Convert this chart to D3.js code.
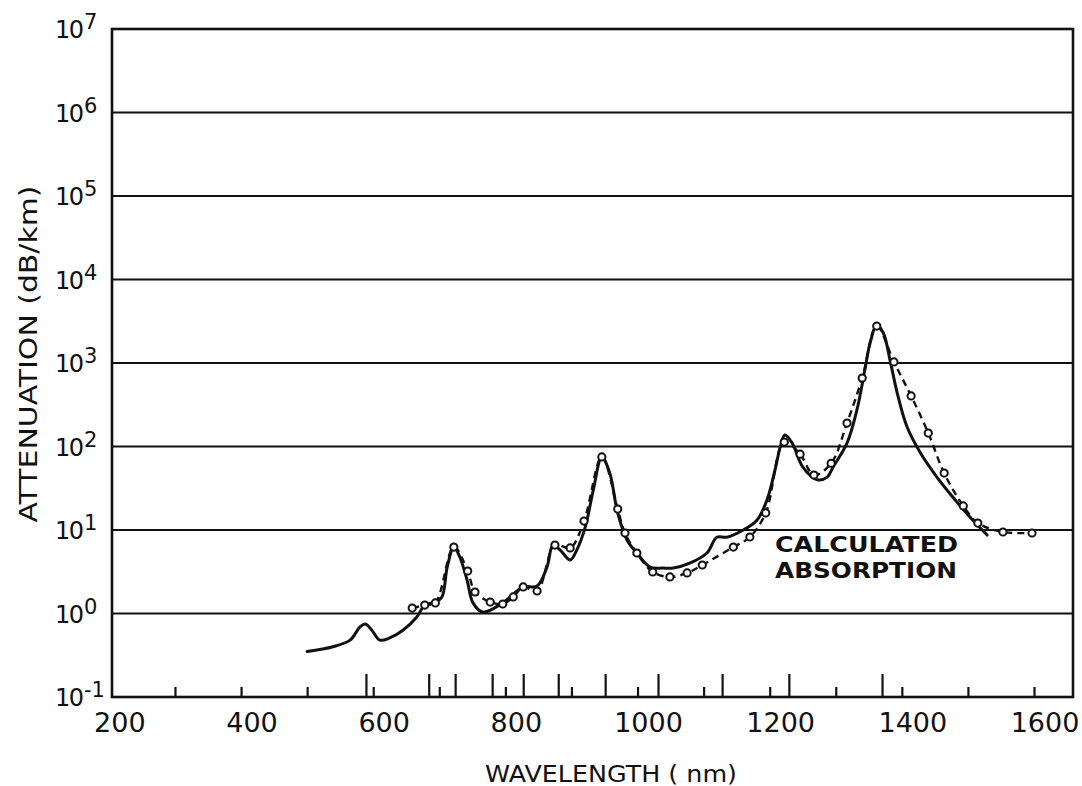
<!DOCTYPE html>
<html>
<head>
<meta charset="utf-8">
<script src="https://cdn.jsdelivr.net/npm/d3@7"></script>
<style>
  html, body { margin: 0; padding: 0; background: #fff; }
  svg { display: block; }
  text { font-family: "DejaVu Sans", sans-serif; fill: #111; }
</style>
</head>
<body>
<svg id="chart" width="1082" height="786"></svg>
<script>
// Calculated absorption (solid curve): wavelength (nm), attenuation (dB/km)
const calcWavelength = [500, 539, 565, 580, 588, 598, 610, 625, 645, 666, 678, 694, 704, 712, 722, 731, 742, 751, 766,
  796, 827, 848, 863, 872, 883, 898, 908, 921, 933, 946, 958, 970, 984, 999, 1019, 1039, 1054, 1079, 1105, 1120, 1135,
  1160, 1181, 1196, 1208, 1216, 1223, 1234, 1250, 1272, 1287, 1296, 1317, 1332, 1344, 1352, 1362, 1372, 1382, 1393,
  1408, 1428, 1453, 1477, 1503, 1529];
const calcAttenuation = [0.35, 0.40, 0.48, 0.69, 0.75, 0.63, 0.48, 0.51, 0.63, 0.91, 1.26, 1.37, 1.58, 3.6, 6.25, 4.75,
  2.52, 1.34, 1.04, 1.34, 2.08, 2.13, 3.6, 6.6, 5.75, 4.37, 5.75, 10.9, 30, 75, 48, 16, 7.6, 5.3, 3.6, 3.5, 3.5, 4.0,
  5.3, 8.2, 8.2, 10, 13.2, 23, 52, 99, 137, 110, 57, 40, 43, 57, 110, 274, 824, 1740, 2850, 2290, 1090, 437, 171, 84,
  43, 24.8, 14.3, 8.7];

// Measured attenuation (dashed curve with circle markers)
const measWavelength = [659, 678, 694, 722, 743, 754, 777, 796, 812, 827, 848, 875, 898, 919, 946, 970, 981, 999, 1023,
  1049, 1075, 1098, 1145, 1170, 1194, 1222, 1246, 1267, 1293, 1317, 1340, 1362, 1388, 1414, 1440, 1464, 1493, 1515,
  1553, 1597];
const measAttenuation = [1.16, 1.26, 1.34, 6.25, 3.23, 1.81, 1.37, 1.30, 1.58, 2.08, 1.86, 6.6, 6.1, 12.8, 75, 17.8,
  9.2, 5.3, 3.14, 2.74, 3.06, 3.81, 6.25, 8.24, 16, 113, 81, 45.6, 63, 191, 661, 2770, 1030, 403, 145, 48, 19.4, 12.1,
  9.46, 9.21];

// Axis ticks and labels
const xTickLabels = [200, 400, 600, 800, 1000, 1200, 1400, 1600];
const xMinorTicks = [300, 400, 500, 600, 700, 800, 900, 1000, 1100, 1200, 1300, 1400, 1500, 1600];
const xBandTicks = [589, 684, 724, 780, 827, 880, 951, 1031, 1128, 1229, 1370];
const yExponents = [-1, 0, 1, 2, 3, 4, 5, 6, 7];
const yGridExponents = [0, 1, 2, 3, 4, 5, 6];

const svg = d3.select("#chart");
const plotLeft = 112, plotRight = 1073, plotTop = 29, plotBottom = 697;
const ink = "#111";

const x = d3.scaleLinear().domain([204.7, 1659]).range([plotLeft, plotRight]);
const y = d3.scaleLog().domain([0.1, 1e7]).range([plotBottom, plotTop]);

// horizontal decade rules
svg.append("g").selectAll("line").data(yGridExponents).join("line")
  .attr("x1", plotLeft).attr("x2", plotRight)
  .attr("y1", d => y(Math.pow(10, d))).attr("y2", d => y(Math.pow(10, d)))
  .attr("stroke", ink).attr("stroke-width", 2);

// frame
svg.append("rect").attr("x", plotLeft).attr("y", plotTop)
  .attr("width", plotRight - plotLeft).attr("height", plotBottom - plotTop)
  .attr("fill", "none").attr("stroke", ink).attr("stroke-width", 2.6);

// bottom ticks: regular hundreds (short) and absorption band markers (tall)
const xAxis = d3.axisBottom(x).tickValues(xMinorTicks).tickSize(-10).tickFormat("");
const gx = svg.append("g").attr("transform", `translate(0,${plotBottom})`).call(xAxis);
gx.select(".domain").remove();
gx.selectAll(".tick line").attr("stroke", ink).attr("stroke-width", 2.2);

const bandAxis = d3.axisBottom(x).tickValues(xBandTicks).tickSize(-23).tickFormat("");
const gb = svg.append("g").attr("transform", `translate(0,${plotBottom})`).call(bandAxis);
gb.select(".domain").remove();
gb.selectAll(".tick line").attr("stroke", ink).attr("stroke-width", 2.2);

// x tick labels
svg.append("g").selectAll("text").data(xTickLabels).join("text")
  .attr("x", d => x(d) + 11).attr("y", 732)
  .attr("text-anchor", "middle").attr("font-size", 27)
  .text(d => d);

// y tick labels as powers of ten
const yl = svg.append("g").selectAll("text").data(yExponents).join("text")
  .attr("x", 55).attr("y", d => y(Math.pow(10, d)) + 9)
  .attr("font-size", 24).attr("letter-spacing", -1.5);
yl.append("tspan").text("10");
yl.append("tspan").attr("dx", 1.5).attr("dy", -9).attr("font-size", 21).attr("letter-spacing", 0)
  .text(d => d < 0 ? "-" + Math.abs(d) : d);

// axis titles
svg.append("text").attr("x", 611).attr("y", 782)
  .attr("text-anchor", "middle").attr("font-size", 23)
  .attr("textLength", 252).attr("lengthAdjust", "spacingAndGlyphs")
  .text("WAVELENGTH ( nm)");

svg.append("text")
  .attr("transform", "translate(37,354) rotate(-90)")
  .attr("text-anchor", "middle").attr("font-size", 25)
  .attr("textLength", 337).attr("lengthAdjust", "spacingAndGlyphs")
  .text("ATTENUATION (dB/km)");

// annotation
const note = svg.append("g").attr("font-weight", "bold").attr("font-size", 22);
note.append("text").attr("x", 775).attr("y", 552)
  .attr("textLength", 183).attr("lengthAdjust", "spacingAndGlyphs").text("CALCULATED");
note.append("text").attr("x", 775).attr("y", 578)
  .attr("textLength", 182).attr("lengthAdjust", "spacingAndGlyphs").text("ABSORPTION");

// curves
const calc = calcWavelength.map((w, i) => [w, calcAttenuation[i]]);
const meas = measWavelength.map((w, i) => [w, measAttenuation[i]]);
const line = d3.line().x(d => x(d[0])).y(d => y(d[1])).curve(d3.curveCatmullRom.alpha(0.5));

svg.append("path").datum(meas).attr("d", line)
  .attr("fill", "none").attr("stroke", ink).attr("stroke-width", 2.4)
  .attr("stroke-dasharray", "7,5");

svg.append("path").datum(calc).attr("d", line)
  .attr("fill", "none").attr("stroke", ink).attr("stroke-width", 3)
  .attr("stroke-linejoin", "round").attr("stroke-linecap", "round");

svg.append("g").selectAll("circle").data(meas).join("circle")
  .attr("cx", d => x(d[0])).attr("cy", d => y(d[1])).attr("r", 3.6)
  .attr("fill", "#fff").attr("stroke", ink).attr("stroke-width", 2);
</script>
</body>
</html>
